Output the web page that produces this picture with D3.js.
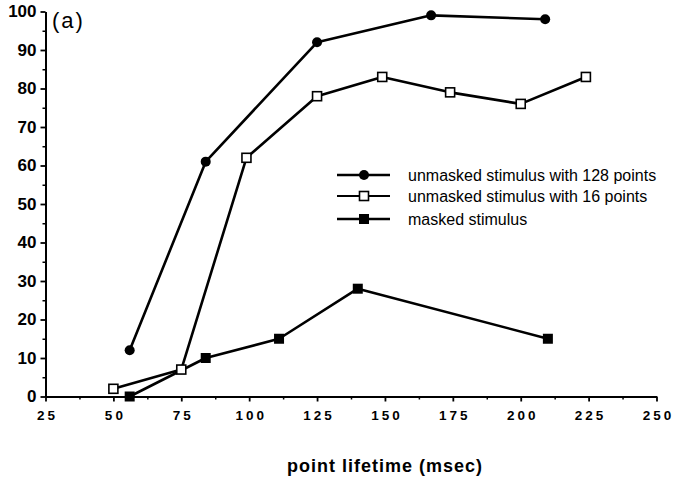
<!DOCTYPE html>
<html>
<head>
<meta charset="utf-8">
<script src="https://cdn.jsdelivr.net/npm/d3@7"></script>
<style>
  html, body { margin: 0; padding: 0; background: #fff; }
  svg { display: block; }
  text { font-family: "Liberation Sans", Arial, Helvetica, sans-serif; fill: #000; }
</style>
</head>
<body>
<svg id="chart" width="675" height="483"></svg>
<script>
// Point lifetime (msec) against percent correct, one array pair per condition
const lifetime128 = [56, 84, 125, 167, 209];
const score128    = [12, 61, 92, 99, 98];

const lifetime16  = [50, 75, 99, 125, 149, 174, 200, 224];
const score16     = [2, 7, 62, 78, 83, 79, 76, 83];

const lifetimeMasked = [56, 84, 111, 140, 210];
const scoreMasked    = [0, 10, 15, 28, 15];

const seriesNames = [
  "unmasked stimulus with 128 points",
  "unmasked stimulus with 16 points",
  "masked stimulus"
];

const xTicks = [25, 50, 75, 100, 125, 150, 175, 200, 225, 250];
const yTicks = [0, 10, 20, 30, 40, 50, 60, 70, 80, 90, 100];
const xLabel = "point lifetime (msec)";
const panelLabel = "(a)";

const svg = d3.select("#chart");
const margin = { left: 45.5, right: 18.5, top: 11.5, bottom: 86.5 };
const W = 675, H = 483;

const x = d3.scaleLinear().domain([25, 250]).range([margin.left, W - margin.right]);
const y = d3.scaleLinear().domain([0, 100]).range([H - margin.bottom, margin.top]);

// Minor ticks halfway between the labelled ones
const xMinor = d3.range(37.5, 250, 25);
const yMinor = d3.range(5, 100, 10);

svg.append("g")
  .attr("transform", `translate(0,${y(0)})`)
  .call(d3.axisBottom(x).tickValues(xMinor).tickSize(3).tickFormat(""))
  .call(g => g.select(".domain").remove())
  .call(g => g.selectAll("line").attr("stroke-width", 1.5));

svg.append("g")
  .attr("transform", `translate(${x(25)},0)`)
  .call(d3.axisLeft(y).tickValues(yMinor).tickSize(3).tickFormat(""))
  .call(g => g.select(".domain").remove())
  .call(g => g.selectAll("line").attr("stroke-width", 1.5));

// X axis
const xAxis = svg.append("g")
  .attr("transform", `translate(0,${y(0)})`)
  .call(d3.axisBottom(x).tickValues(xTicks).tickSize(5).tickSizeOuter(0).tickPadding(9));
xAxis.select(".domain").attr("stroke-width", 2);
xAxis.selectAll("line").attr("stroke-width", 1.8);
xAxis.selectAll("text")
  .style("font-family", "'Liberation Sans', Arial, sans-serif")
  .style("font-size", "13.5px").style("font-weight", "bold")
  .attr("letter-spacing", 3).attr("dx", 1.5).attr("fill", "#000");

// Y axis
const yAxis = svg.append("g")
  .attr("transform", `translate(${x(25)},0)`)
  .call(d3.axisLeft(y).tickValues(yTicks).tickSize(5).tickSizeOuter(0).tickPadding(4));
yAxis.select(".domain").attr("stroke-width", 2);
yAxis.selectAll("line").attr("stroke-width", 1.8);
yAxis.selectAll("text")
  .style("font-family", "'Liberation Sans', Arial, sans-serif")
  .style("font-size", "17px").style("font-weight", "bold")
  .attr("fill", "#000");

// Axis title and panel label
svg.append("text")
  .attr("x", 385).attr("y", 472)
  .attr("text-anchor", "middle")
  .attr("font-size", 18).attr("font-weight", "bold").attr("letter-spacing", 1)
  .text(xLabel);

svg.append("text")
  .attr("x", 52).attr("y", 28)
  .attr("font-size", 22)
  .attr("letter-spacing", 2)
  .text(panelLabel);

// Data lines
const line = d3.line().x(d => x(d[0])).y(d => y(d[1]));
const series = [
  { xs: lifetime128, ys: score128, marker: "circle" },
  { xs: lifetime16, ys: score16, marker: "open" },
  { xs: lifetimeMasked, ys: scoreMasked, marker: "filled" }
];

function drawMarker(g, kind, cx, cy) {
  if (kind === "circle") {
    g.append("circle").attr("cx", cx).attr("cy", cy).attr("r", 5).attr("fill", "#000");
  } else if (kind === "open") {
    g.append("rect").attr("x", cx - 4.5).attr("y", cy - 4.5).attr("width", 9).attr("height", 9)
      .attr("fill", "#fff").attr("stroke", "#000").attr("stroke-width", 1.6);
  } else {
    g.append("rect").attr("x", cx - 5).attr("y", cy - 5).attr("width", 10).attr("height", 10)
      .attr("fill", "#000");
  }
}

series.forEach(s => {
  const pts = s.xs.map((v, i) => [v, s.ys[i]]);
  svg.append("path").datum(pts)
    .attr("d", line)
    .attr("fill", "none").attr("stroke", "#000").attr("stroke-width", 2.6)
    .attr("stroke-linejoin", "round");
});
series.forEach(s => {
  const g = svg.append("g");
  s.xs.forEach((v, i) => drawMarker(g, s.marker, x(v), y(s.ys[i])));
});

// Legend
const legendRows = [175, 196, 219];
seriesNames.forEach((name, i) => {
  const ly = legendRows[i];
  const g = svg.append("g");
  g.append("line").attr("x1", 337).attr("x2", 390).attr("y1", ly).attr("y2", ly)
    .attr("stroke", "#000").attr("stroke-width", i === 1 ? 1.8 : 2.6);
  drawMarker(g, series[i].marker, 364, ly);
  g.append("text").attr("x", 408).attr("y", ly + 5.5)
    .attr("font-size", 16).text(name);
});
</script>
</body>
</html>
